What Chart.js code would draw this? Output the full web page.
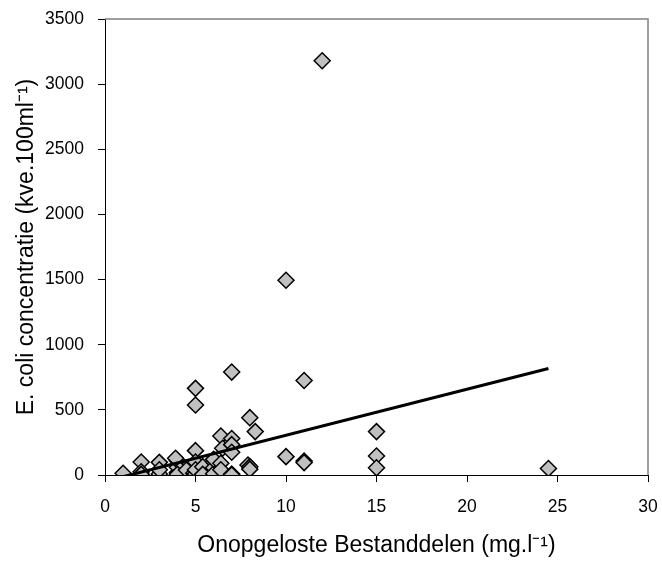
<!DOCTYPE html>
<html>
<head>
<meta charset="utf-8">
<script src="https://cdn.jsdelivr.net/npm/chart.js@4/dist/chart.umd.min.js"></script>
<style>
  body { margin: 0; background: #fff; }
  #wrap { width: 662px; height: 561px; }
</style>
</head>
<body>
<div id="wrap"><canvas id="ecoliChart" width="662" height="561"></canvas></div>
<script>
// meetpunten
const solids = [1, 2, 2, 2, 3, 3, 3, 4, 4, 4, 4, 3.9, 4.5, 4.9,
  5, 5, 5, 5, 5, 5, 5.4, 5.4, 6, 6, 6, 6, 6.4, 6.4, 6.4, 6.5,
  7, 7, 7, 7, 7, 7, 7.9, 8, 8, 8, 8.3, 10, 10, 11, 11, 11, 12,
  15, 15, 15, 24.5];
const ecoli = [13, 100, 25, 5, 97, 8, 40, 110, 18, 60, 5, 128, 38, 13,
  665, 537, 187, 100, 8, 40, 64, 5, 102, 55, 10, 120, 299, 90, 40, 205,
  790, 280, 233, 175, 8, 0, 77, 440, 64, 45, 333, 1495, 141, 725, 107, 95, 3180,
  333, 146, 55, 50];

const trendX = [1, 24.5];
const trendY = [-13, 818];

const xTitle = 'Onopgeloste Bestanddelen (mg.l\u207B\u00B9)';
const yTitle = 'E. coli concentratie (kve.100ml\u207B\u00B9)';

const points = solids.map((x, i) => ({ x: x, y: ecoli[i] }));
const trend = trendX.map((x, i) => ({ x: x, y: trendY[i] }));

// grijze rand boven en rechts van het plotgebied
const frameLines = {
  id: 'frameLines',
  beforeDatasetsDraw(chart) {
    const a = chart.chartArea;
    const ctx = chart.ctx;
    ctx.save();
    ctx.strokeStyle = '#808080';
    ctx.lineWidth = 1.5;
    ctx.beginPath();
    ctx.moveTo(a.left, a.top);
    ctx.lineTo(a.right, a.top);
    ctx.lineTo(a.right, a.bottom);
    ctx.stroke();
    ctx.restore();
  }
};

const ctx = document.getElementById('ecoliChart').getContext('2d');

const chart = new Chart(ctx, {
  type: 'scatter',
  data: {
    datasets: [{
      label: 'trend',
      type: 'line',
      data: trend,
      borderColor: '#000',
      borderWidth: 3,
      pointRadius: 0,
      fill: false,
      order: 0
    },
    {
      label: 'E. coli',
      data: points,
      pointStyle: 'rectRot',
      pointRadius: 8,
      pointBackgroundColor: '#c0c0c0',
      pointBorderColor: '#000',
      pointBorderWidth: 1.5,
      order: 1
    }]
  },
  options: {
    responsive: false,
    animation: false,
    layout: { padding: { left: 0, top: 19, right: 14, bottom: 0 } },
    plugins: { legend: { display: false }, tooltip: { enabled: false } },
    scales: {
      x: {
        type: 'linear',
        min: 0,
        max: 30,
        ticks: {
          stepSize: 5, color: '#000', padding: 15,
          font: { family: 'Liberation Sans', size: 17.5 },
          callback: (v) => String(v)
        },
        grid: { drawOnChartArea: false, drawTicks: true, tickLength: 7, color: '#000' },
        border: { color: '#000', width: 1 },
        title: {
          display: true, text: xTitle, color: '#000',
          font: { family: 'Liberation Sans', size: 23 },
          padding: { top: 0, bottom: 2 }
        },
        afterFit: (scale) => {
          scale.height = 86;
          scale.paddingLeft = 0;
          scale.paddingRight = 0;
        }
      },
      y: {
        min: 0,
        max: 3500,
        ticks: {
          stepSize: 500, color: '#000', padding: 14,
          font: { family: 'Liberation Sans', size: 17.5 },
          callback: (v) => String(v)
        },
        grid: { drawOnChartArea: false, drawTicks: true, tickLength: 7, color: '#000' },
        border: { color: '#000', width: 1 },
        title: {
          display: true, text: yTitle, color: '#000',
          font: { family: 'Liberation Sans', size: 23 },
          padding: { top: 13, bottom: 0 }
        },
        afterFit: (scale) => {
          scale.width = 105;
          scale.paddingTop = 0;
          scale.paddingBottom = 0;
        }
      }
    }
  },
  plugins: [frameLines]
});
</script>
</body>
</html>
